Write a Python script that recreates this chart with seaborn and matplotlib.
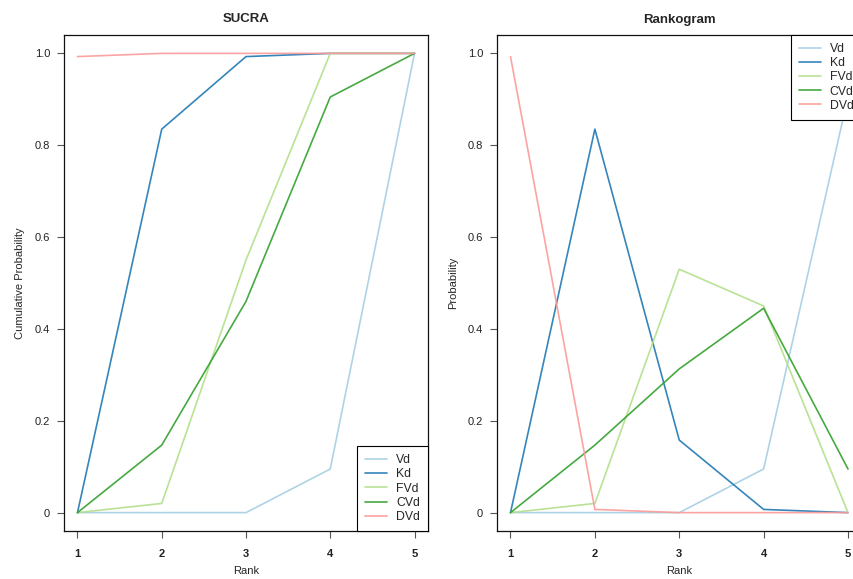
import numpy as np
import pandas as pd
import matplotlib
matplotlib.use("Agg")
import matplotlib.pyplot as plt
import seaborn as sns

# Treatments and ranks
treatments = ["Vd", "Kd", "FVd", "CVd", "DVd"]
ranks = [1, 2, 3, 4, 5]

# Cumulative ranking probabilities (SUCRA curves)
sucra_vd = [0.0, 0.0, 0.0, 0.095, 1.0]
sucra_kd = [0.0, 0.835, 0.993, 1.0, 1.0]
sucra_fvd = [0.0, 0.02, 0.55, 1.0, 1.0]
sucra_cvd = [0.0, 0.147, 0.46, 0.905, 1.0]
sucra_dvd = [0.993, 1.0, 1.0, 1.0, 1.0]

# Probability of each rank (rankogram)
rank_vd = [0.0, 0.0, 0.0, 0.095, 0.905]
rank_kd = [0.0, 0.835, 0.158, 0.007, 0.0]
rank_fvd = [0.0, 0.02, 0.53, 0.45, 0.0]
rank_cvd = [0.0, 0.147, 0.313, 0.445, 0.095]
rank_dvd = [0.993, 0.007, 0.0, 0.0, 0.0]

y_ticks = [0, 0.2, 0.4, 0.6, 0.8, 1.0]
y_tick_labels = ["0", "0.2", "0.4", "0.6", "0.8", "1.0"]


def long_frame(series):
    rows = []
    for name, vals in zip(treatments, series):
        for r, v in zip(ranks, vals):
            rows.append({"Treatment": name, "Rank": r, "Value": v})
    return pd.DataFrame(rows)


sucra_df = long_frame([sucra_vd, sucra_kd, sucra_fvd, sucra_cvd, sucra_dvd])
rank_df = long_frame([rank_vd, rank_kd, rank_fvd, rank_cvd, rank_dvd])

sns.set_theme(style="white")
plt.rcParams["font.family"] = ["Liberation Sans", "DejaVu Sans"]

paired = sns.color_palette("Paired", 6)
palette = dict(zip(treatments, paired[:5]))

W, H = 854, 579
fig = plt.figure(figsize=(W / 100, H / 100), dpi=100)

ax1 = fig.add_axes([64 / W, (H - 531) / H, (428 - 64) / W, (531 - 35) / H])
ax2 = fig.add_axes([497 / W, (H - 531) / H, (861.5 - 497) / W, (531 - 35) / H])


def style_axis(ax, title, ylabel):
    ax.set_xlim(0.84, 5.16)
    ax.set_ylim(-0.04, 1.04)
    ax.set_xticks(ranks)
    ax.set_xticklabels([str(r) for r in ranks], fontweight="bold", fontsize=8)
    ax.set_yticks(y_ticks)
    ax.set_yticklabels(y_tick_labels, fontsize=8)
    ax.tick_params(axis="both", direction="out", length=5, width=0.8,
                   color="#555555", labelcolor="#222222", pad=5, bottom=True, left=True)
    ax.tick_params(axis="x", pad=8)
    for s in ax.spines.values():
        s.set_color("#111111")
        s.set_linewidth(0.9)
    ax.set_title(title, fontsize=9.5, fontweight="bold", pad=9)
    ax.set_xlabel("Rank", fontsize=8, labelpad=5)
    ax.set_ylabel(ylabel, fontsize=8, labelpad=7)


def draw(ax, df, loc):
    sns.lineplot(data=df, x="Rank", y="Value", hue="Treatment", hue_order=treatments,
                 palette=palette, linewidth=1.2, alpha=0.9, ax=ax, legend=True)
    leg = ax.legend(loc=loc, borderaxespad=0, frameon=True, fancybox=False,
                    edgecolor="black", framealpha=1, fontsize=8.8, handlelength=1.8,
                    handletextpad=0.75, labelspacing=0.18, borderpad=0.65)
    leg.get_frame().set_linewidth(0.8)
    for line in leg.get_lines():
        line.set_linewidth(1.2)


draw(ax1, sucra_df, "lower right")
draw(ax2, rank_df, "upper right")
style_axis(ax1, "SUCRA", "Cumulative Probability")
style_axis(ax2, "Rankogram", "Probability")

fig.savefig("out.png", dpi=100)
